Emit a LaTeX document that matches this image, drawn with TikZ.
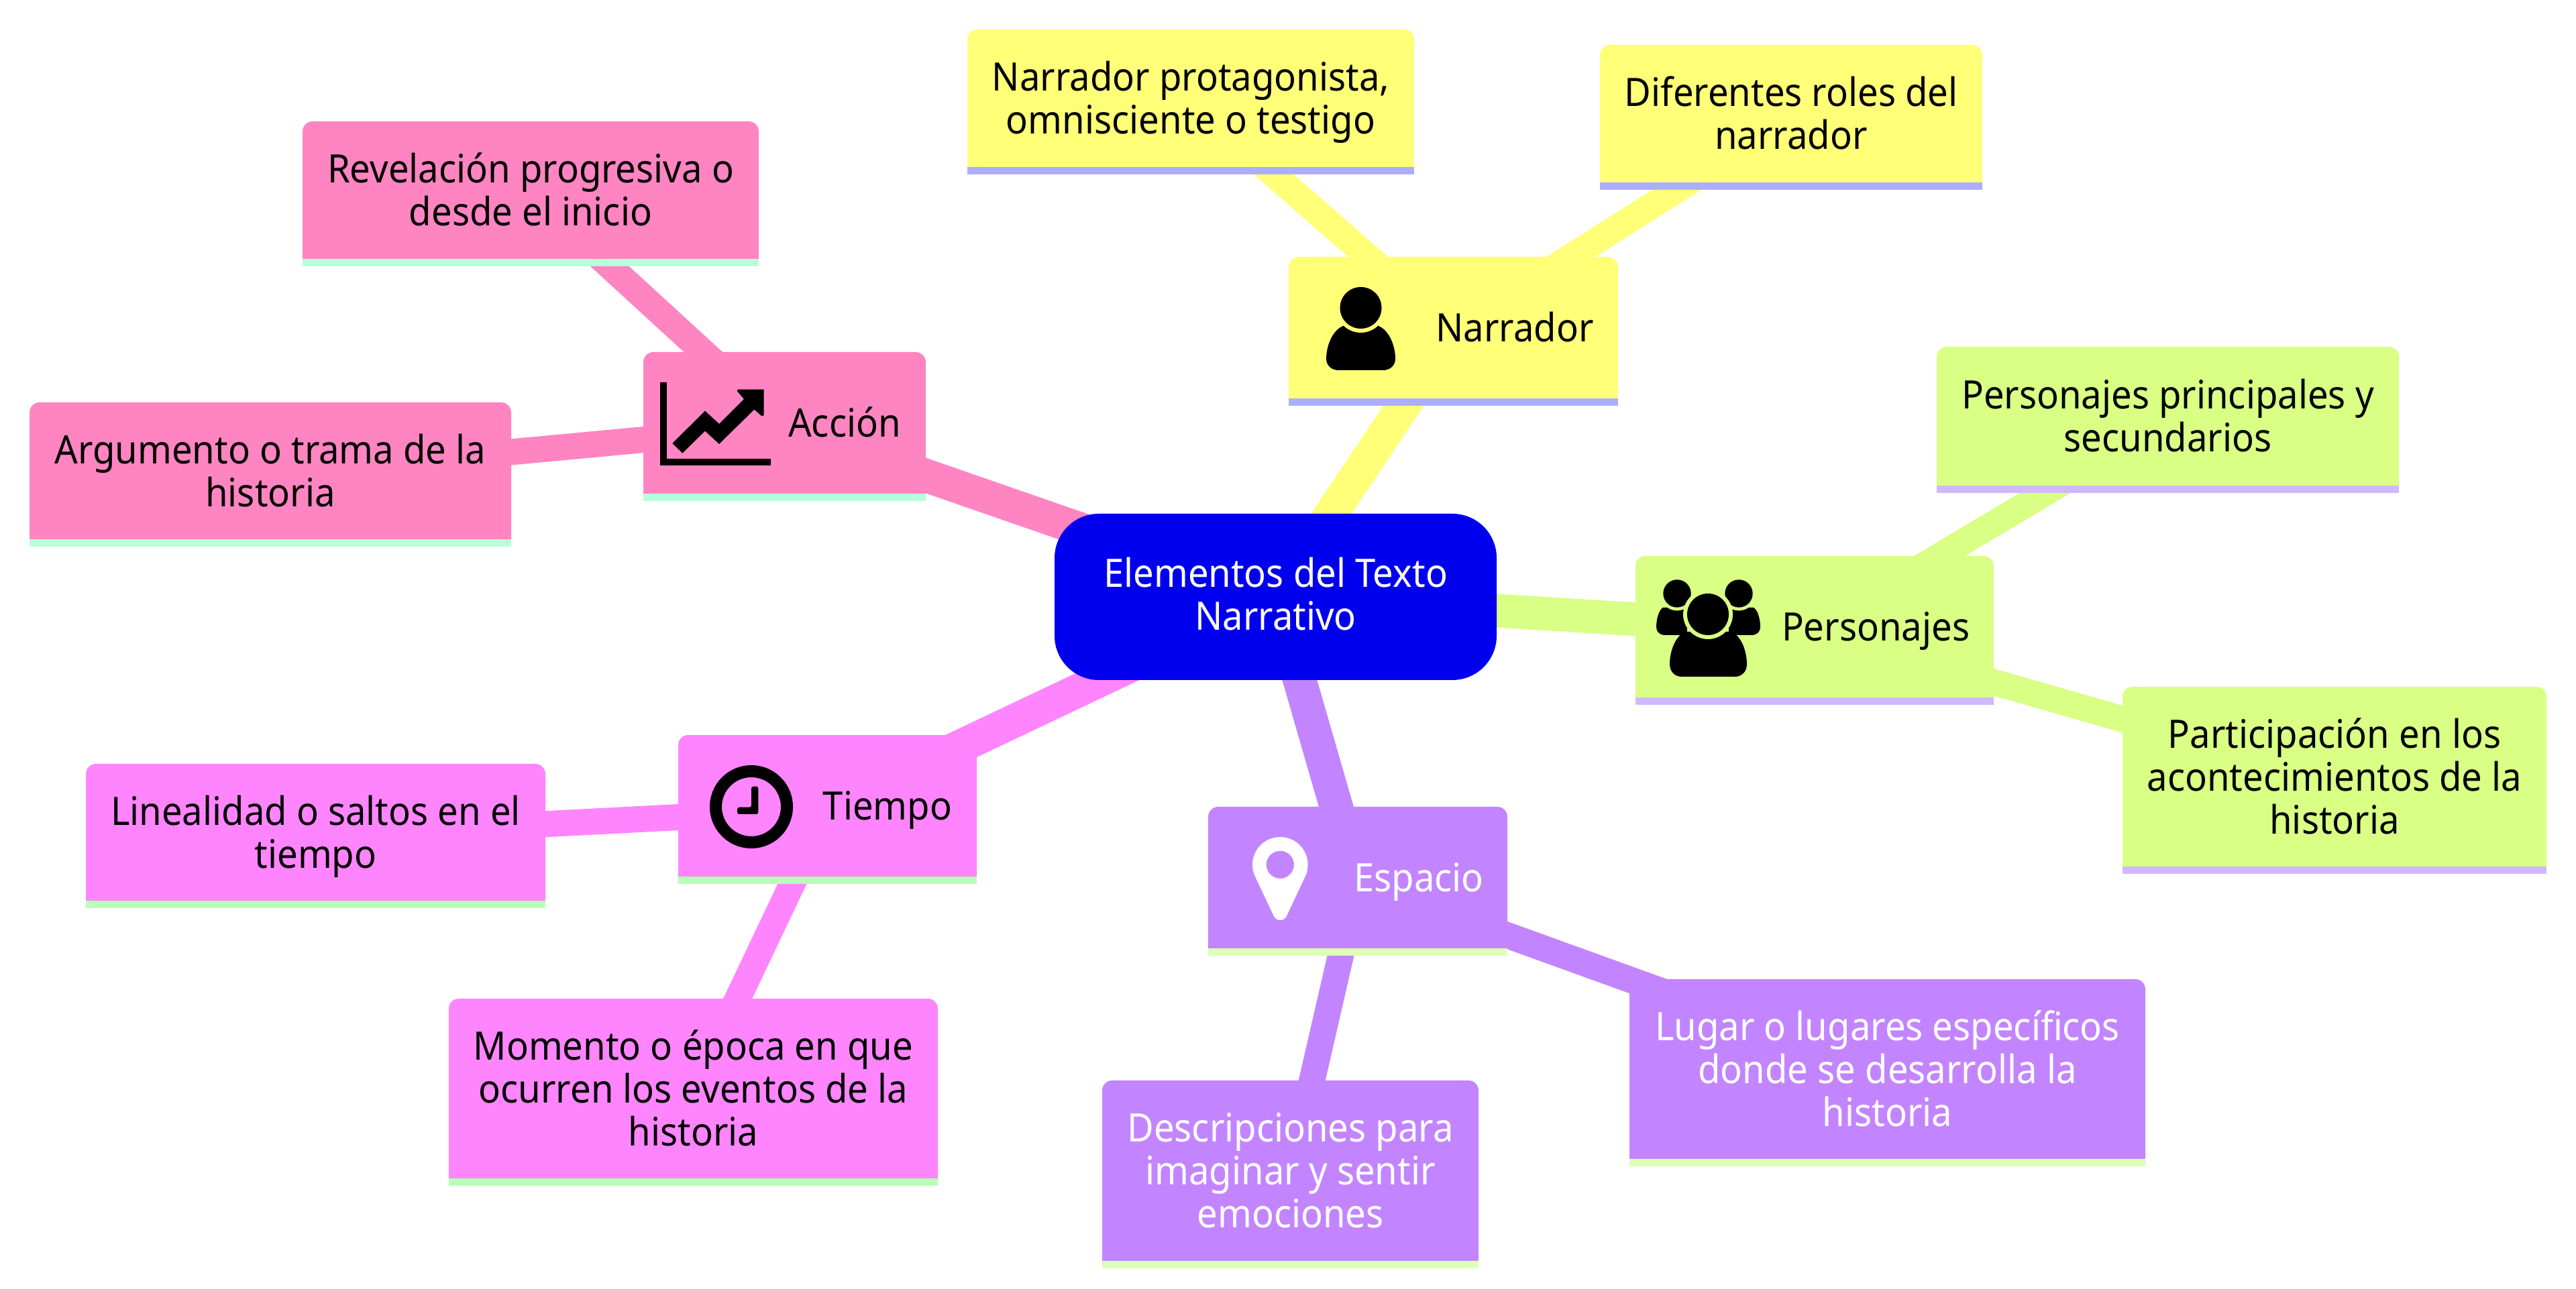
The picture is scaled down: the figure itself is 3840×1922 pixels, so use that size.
\documentclass[tikz,border=0pt]{standalone}
\usepackage{fontspec}
\setmainfont[FakeStretch=0.932]{Noto Sans}
\normallineskiplimit=-10pt
\lineskiplimit=-10pt
\usetikzlibrary{backgrounds}
\definecolor{rootfill}{HTML}{0000EE}
\definecolor{narfill}{HTML}{FFFF78}\definecolor{narband}{HTML}{ADADFF}\definecolor{nartext}{HTML}{000000}
\definecolor{perfill}{HTML}{D9FF85}\definecolor{perband}{HTML}{D0B8FF}\definecolor{pertext}{HTML}{000000}
\definecolor{espfill}{HTML}{C285FF}\definecolor{espband}{HTML}{DEFFB8}\definecolor{esptext}{HTML}{FFFFFF}
\definecolor{tiefill}{HTML}{FF85FF}\definecolor{tieband}{HTML}{B8FFB8}\definecolor{tietext}{HTML}{000000}
\definecolor{accfill}{HTML}{FF85C2}\definecolor{accband}{HTML}{B8FFDC}\definecolor{acctext}{HTML}{000000}
\tikzset{
  anchorbox/.style={rectangle,inner sep=0pt,outer sep=0pt},
  label text/.style={anchor=center,align=center,inner sep=0pt,outer sep=0pt,font=\fontsize{14.6}{16}\selectfont},
  rootedge/.style={line width=12.5pt,line cap=butt},
  leafedge/.style={line width=9.75pt,line cap=butt}
}
% name, x1, y1, x2, y2, section, text x, text
\newcommand\mmbox[8]{%
  \fill[#6fill] (#2,#5-11) [rounded corners=3.75pt] -- (#2,#3) -- (#4,#3) [sharp corners] -- (#4,#5-11) -- cycle;
  \fill[#6band] (#2,#5-11) rectangle (#4,#5);
  \node[anchorbox,minimum width={(#4-#2)*0.25pt},minimum height={(#5-#3)*0.25pt}] (#1) at ({(#2+#4)/2},{(#3+#5)/2}) {};
  \node[label text,text=#6text] (#1t) at (#7,{(#3+#5)/2+3}) {#8};
}
\begin{document}
\begin{tikzpicture}[x=0.25pt,y=-0.25pt]
\useasboundingbox (0,0) rectangle (3840,1922);
% root
\node[anchorbox,fill=rootfill,rounded corners=16.5pt,minimum width=164.75pt,minimum height=62pt] (root) at (1901.5,890) {};
\node[label text,text=white] (roott) at (1901.5,895) {\strut Elementos del Texto\\\strut Narrativo};
% categories
\mmbox{nar}{1921}{383}{2412}{605}{nar}{2258}{\strut Narrador}
\mmbox{per}{2438}{829}{2972}{1051}{per}{2796}{\strut Personajes}
\mmbox{esp}{1801}{1203}{2247}{1425}{esp}{2115}{\strut Espacio}
\mmbox{tie}{1011}{1096}{1456}{1318}{tie}{1323}{\strut Tiempo}
\mmbox{acc}{959}{525}{1380}{747}{acc}{1259}{\strut Acción}
% leaves
\mmbox{nara}{1442}{44}{2108}{260}{nar}{1775}{\strut Narrador protagonista,\\\strut omnisciente o testigo}
\mmbox{narb}{2385}{67}{2955}{283}{nar}{2670}{\strut Diferentes roles del\\\strut narrador}
\mmbox{pera}{2887}{517}{3576}{735}{per}{3231.5}{\strut Personajes principales y\\\strut secundarios}
\mmbox{perb}{3164}{1024}{3796}{1303}{per}{3480}{\strut Participación en los\\\strut acontecimientos de la\\\strut historia}
\mmbox{espa}{2429}{1460}{3198}{1739}{esp}{2813.5}{\strut Lugar o lugares específicos\\\strut donde se desarrolla la\\\strut historia}
\mmbox{espb}{1643}{1611}{2204}{1891}{esp}{1923.5}{\strut Descripciones para\\\strut imaginar y sentir\\\strut emociones}
\mmbox{tiea}{128}{1139}{813}{1354}{tie}{470.5}{\strut Linealidad o saltos en el\\\strut tiempo}
\mmbox{tieb}{669}{1489}{1398}{1768}{tie}{1033.5}{\strut Momento o época en que\\\strut ocurren los eventos de la\\\strut historia}
\mmbox{acca}{451}{181}{1131}{397}{acc}{791}{\strut Revelación progresiva o\\\strut desde el inicio}
\mmbox{accb}{44}{600}{762}{815}{acc}{403}{\strut Argumento o trama de la\\\strut historia}
% connectors
\begin{scope}[on background layer]
\draw[rootedge,narfill] (root.center) -- (nar.center);
\draw[rootedge,perfill] (root.center) -- (per.center);
\draw[rootedge,espfill] (root.center) -- (esp.center);
\draw[rootedge,tiefill] (root.center) -- (tie.center);
\draw[rootedge,accfill] (root.center) -- (acc.center);
\draw[leafedge,narfill] (nar.center) -- (nara.center);
\draw[leafedge,narfill] (nar.center) -- (narb.center);
\draw[leafedge,perfill] (per.center) -- (pera.center);
\draw[leafedge,perfill] (per.center) -- (perb.center);
\draw[leafedge,espfill] (esp.center) -- (espa.center);
\draw[leafedge,espfill] (esp.center) -- (espb.center);
\draw[leafedge,tiefill] (tie.center) -- (tiea.center);
\draw[leafedge,tiefill] (tie.center) -- (tieb.center);
\draw[leafedge,accfill] (acc.center) -- (acca.center);
\draw[leafedge,accfill] (acc.center) -- (accb.center);
\end{scope}
% icon: narrador
\fill[black] (2005,485) .. controls (1987,490) and (1977,515) .. (1977,535) .. controls (1977,545) and (1985,552) .. (1995,552) -- (2062,552) .. controls (2072,552) and (2080,545) .. (2080,535) .. controls (2080,515) and (2070,490) .. (2052,485) -- cycle;
\fill[narfill] (2028.5,459) circle[radius=37];
\fill[black] (2028.5,459) circle[radius=31];
% icon: personajes
\fill[black] (2479,906) .. controls (2472,910) and (2469,925) .. (2469,935) .. controls (2469,942) and (2474,947) .. (2482,947) -- (2516,947) -- (2516,906) -- cycle;
\fill[black] (2614,906) .. controls (2621,910) and (2624,925) .. (2624,935) .. controls (2624,942) and (2619,947) .. (2611,947) -- (2577,947) -- (2577,906) -- cycle;
\fill[perfill] (2500,885) circle[radius=25.5];
\fill[perfill] (2592,885) circle[radius=25.5];
\fill[black] (2500,885) circle[radius=20.7];
\fill[black] (2592,885) circle[radius=20.7];
\fill[perfill] (2515,946) rectangle (2577,920);
\fill[black] (2512,942) .. controls (2495,950) and (2489,975) .. (2489,990) .. controls (2489,1002) and (2497,1009) .. (2507,1009) -- (2586,1009) .. controls (2596,1009) and (2604,1002) .. (2604,990) .. controls (2604,975) and (2598,950) .. (2581,942) -- cycle;
\fill[perfill] (2546,916) circle[radius=37];
\fill[black] (2546,916) circle[radius=31];
% icon: accion
\fill[black] (984,570) rectangle (994,694);
\fill[black] (984,684) rectangle (1149,694);
\fill[black] (1002.3,661) -- (1051,612.7) -- (1072,632) -- (1109,595) -- (1098.7,583) -- (1100,580.7) -- (1138.7,580.7) -- (1138.7,619) -- (1136,620.7) -- (1124.3,610.7) -- (1072,662) -- (1051,642.7) -- (1017.3,675.7) -- cycle;
% icon: tiempo
\fill[black,even odd rule] (1120,1203) circle[radius=62] (1120,1203) circle[radius=44];
\fill[black,rounded corners=0.75pt] (1120,1172.7) -- (1130.3,1172.7) -- (1130.3,1214) -- (1099,1214) -- (1099,1203.7) -- (1120,1203.7) -- cycle;
% icon: espacio
\fill[white,even odd rule] (1870,1304.8) arc[start angle=158,end angle=382,radius=41.3] -- (1917.8,1366) arc[start angle=25,end angle=155,radius=10.5] -- cycle (1908.3,1289.3) circle[radius=20.7];
\end{tikzpicture}
\end{document}
